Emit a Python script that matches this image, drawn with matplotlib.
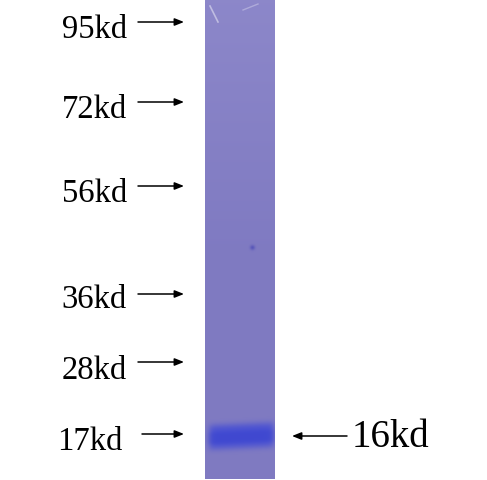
import numpy as np
import matplotlib
matplotlib.use("Agg")
import matplotlib.pyplot as plt

# Marker ladder (label, y position of arrow in image pixels)
marker_labels = ["95kd", "72kd", "56kd", "36kd", "28kd", "17kd"]
marker_arrow_y = [22, 102, 186, 294, 362, 434]
marker_text_baseline = [38, 118, 202, 308, 379, 450]
marker_text_x = [62, 62, 62, 61, 62, 57]
marker_arrow_x0 = [138, 138, 138, 138, 138, 142]

# Detected band
band_label = "16kd"
band_y = 435
band_intensity = 1.0

plt.rcParams['font.family'] = ['Liberation Serif', 'DejaVu Serif']

W, H = 487, 480
fig = plt.figure(figsize=(W / 100, H / 100), dpi=100)
ax = fig.add_axes([0, 0, 1, 1])
ax.set_xlim(0, W)
ax.set_ylim(H, 0)
ax.axis('off')

# Lane image
lx0, lx1, ly0, ly1 = 205, 275, 0, 479
lw, lh = lx1 - lx0, ly1 - ly0
yy, xx = np.mgrid[0:lh, 0:lw].astype(float)
top = np.array([0.55, 0.53, 0.79])
mid = np.array([0.50, 0.48, 0.76])
t = np.clip(yy / 250.0, 0, 1)[..., None]
img = top * (1 - t) + mid * t
# band (slightly tilted: lower on the left)
bc = band_y + 2.0 - 3.0 * (xx / lw)
bx = 1 / (1 + np.exp(-(xx - 4) / 1.8)) * 1 / (1 + np.exp((xx - 68) / 1.8))
by = np.exp(-((yy - bc) / 12.5) ** 4)
a = np.clip(by * bx * band_intensity * 0.85, 0, 1)[..., None]
band_col = np.array([0.24, 0.28, 0.84])
img = img * (1 - a) + band_col * a
core = (np.exp(-((yy - bc - 1) / 6.0) ** 4) * bx * 0.35)[..., None]
img = img * (1 - core) + np.array([0.20, 0.24, 0.80]) * core
# small dark spot
spot = np.exp(-(((xx - 47) ** 2 + (yy - 247) ** 2) / 6.0))[..., None] * 0.6
img = img * (1 - spot) + np.array([0.25, 0.25, 0.7]) * spot
ax.imshow(img, extent=[lx0, lx1, ly1, ly0], interpolation='bilinear', aspect='auto', zorder=1)

# faint scratches near the top
sx = np.linspace(0, 1, 30)
ax.plot(210 + 8 * sx, 6 + 16 * sx, color='white', alpha=0.45, lw=1.2, zorder=2)
ax.plot(243 + 15 * sx, 10 - 6 * sx, color='white', alpha=0.3, lw=1.0, zorder=2)

# Marker labels and arrows
for lab, ay, tb, tx, ax0 in zip(marker_labels, marker_arrow_y, marker_text_baseline,
                                marker_text_x, marker_arrow_x0):
    ax.text(tx, tb, lab, fontsize=23.5, ha='left', va='baseline', color='black', zorder=3)
    ax.annotate('', xy=(184, ay), xytext=(ax0, ay),
                arrowprops=dict(arrowstyle='-|>,head_length=0.55,head_width=0.22',
                                color='black', lw=1.1, shrinkA=0, shrinkB=0), zorder=3)

# Band label
ax.annotate('', xy=(292, band_y + 1), xytext=(347, band_y + 1),
            arrowprops=dict(arrowstyle='-|>,head_length=0.55,head_width=0.22',
                            color='black', lw=1.1, shrinkA=0, shrinkB=0), zorder=3)
ax.text(352, 447, band_label, fontsize=28, ha='left', va='baseline', color='black', zorder=3)

fig.savefig('out.png', dpi=100)
